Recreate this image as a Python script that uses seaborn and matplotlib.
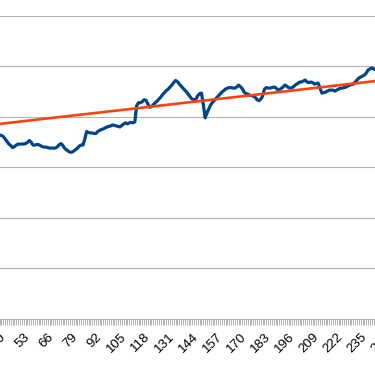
import numpy as np
import pandas as pd
import matplotlib
matplotlib.use("Agg")
import matplotlib.pyplot as plt
import seaborn as sns

# Series values, one per category index, starting at index 40
start_index = 40
values = [
    36.4, 36.3, 36.1, 35.6, 35.1, 34.6, 34.3, 33.9, 34.1, 34.4,  # 40-49
    34.6, 34.6, 34.6, 34.6, 34.7, 34.9, 35.3, 35.0, 34.4, 34.4,  # 50-59
    34.5, 34.5, 34.3, 34.1, 34.0, 34.0, 33.9, 33.8, 33.8, 33.8,  # 60-69
    33.8, 34.0, 34.4, 34.7, 34.4, 33.8, 33.5, 33.2, 33.0, 33.0,  # 70-79
    33.2, 33.5, 33.8, 34.2, 34.4, 34.4, 35.6, 37.1, 36.9, 36.8,  # 80-89
    36.8, 36.7, 36.7, 37.1, 37.3, 37.5, 37.6, 37.8, 38.0, 38.1,  # 90-99
    38.2, 38.4, 38.3, 38.2, 38.1, 38.0, 38.3, 38.6, 38.8, 38.6,  # 100-109
    38.8, 38.9, 38.8, 39.0, 42.2, 42.8, 42.8, 43.0, 43.4, 43.3,  # 110-119
    42.6, 41.9, 42.0, 42.4, 42.8, 43.1, 43.5, 43.9, 44.4, 44.8,  # 120-129
    45.2, 45.5, 45.9, 46.3, 46.8, 47.2, 47.0, 46.5, 46.1, 45.7,  # 130-139
    45.3, 44.9, 44.4, 43.9, 43.5, 43.4, 43.5, 44.2, 44.6, 44.7,  # 140-149
    42.4, 39.8, 40.8, 41.6, 42.4, 42.9, 43.3, 43.7, 44.1, 44.5,  # 150-159
    44.9, 45.2, 45.5, 45.7, 45.8, 45.8, 45.7, 45.7, 45.9, 46.3,  # 160-169
    46.0, 45.6, 44.9, 44.6, 44.5, 44.3, 44.2, 44.1, 43.9, 43.4,  # 170-179
    43.2, 43.5, 44.1, 45.5, 45.8, 45.7, 45.7, 45.8, 45.9, 45.8,  # 180-189
    45.4, 45.4, 45.6, 45.9, 46.3, 46.1, 45.8, 45.7, 45.8, 46.1,  # 190-199
    46.4, 46.6, 46.9, 46.9, 47.1, 47.3, 46.9, 46.8, 46.9, 46.8,  # 200-209
    46.5, 46.6, 46.7, 45.7, 44.7, 44.8, 44.9, 45.1, 45.3, 45.3,  # 210-219
    45.3, 45.1, 45.3, 45.5, 45.7, 45.7, 45.8, 45.9, 46.1, 46.3,  # 220-229
    46.4, 46.5, 46.9, 47.3, 47.7, 47.9, 48.1, 48.3, 48.7, 49.3,  # 230-239
    49.5, 49.7, 49.5, 49.3,                                      # 240-243
]

# Linear trend line read at both visible ends
trend_x = [40, 243]
trend_y = [38.6, 47.1]

# Category labels shown every 13 points
label_positions = list(range(1, 262, 13))
y_gridlines = list(range(0, 61, 10))

df = pd.DataFrame({
    "index": np.arange(start_index, start_index + len(values)),
    "value": values,
})
df_trend = pd.DataFrame({"index": trend_x, "value": trend_y})

sns.set_theme(style="white")
plt.rcParams["font.family"] = ["Liberation Sans", "DejaVu Sans"]

fig = plt.figure(figsize=(3.75, 3.66), dpi=100)
# plot area runs past both figure edges, like the cropped original
ax = fig.add_axes([-50 / 375, 47.5 / 366, 475 / 375, 302.5 / 366])

sns.lineplot(data=df, x="index", y="value", color="#004586", linewidth=2.3,
             solid_joinstyle="round", solid_capstyle="round", ax=ax)
sns.lineplot(data=df_trend, x="index", y="value", color="#ff420e",
             linewidth=1.9, ax=ax)

ax.set_yticks(y_gridlines)
ax.yaxis.grid(True, color="#b3b3b3", linewidth=0.8)
ax.tick_params(axis="y", length=0, labelleft=False)

ax.set_xticks(label_positions)
ax.set_xticks(range(1, 270), minor=True)
ax.set_xticklabels([str(p) for p in label_positions])
ax.tick_params(axis="x", which="both", direction="out", length=4.3,
               width=0.7, color="#b3b3b3", bottom=True, pad=4.5,
               labelsize=9.6, labelcolor="black")
for lbl in ax.get_xticklabels():
    lbl.set_rotation(45)
    lbl.set_ha("right")
    lbl.set_va("top")
    lbl.set_rotation_mode("anchor")

# limits last, set_xticks would widen them otherwise
ax.set_xlim(13.21, 269.69)
ax.set_ylim(0, 60)

for side in ["top", "right", "left"]:
    ax.spines[side].set_visible(False)
ax.spines["bottom"].set_color("#b3b3b3")
ax.spines["bottom"].set_linewidth(0.8)

ax.set_xlabel("")
ax.set_ylabel("")
ax.legend_ = None

fig.savefig("out.png", dpi=100)
